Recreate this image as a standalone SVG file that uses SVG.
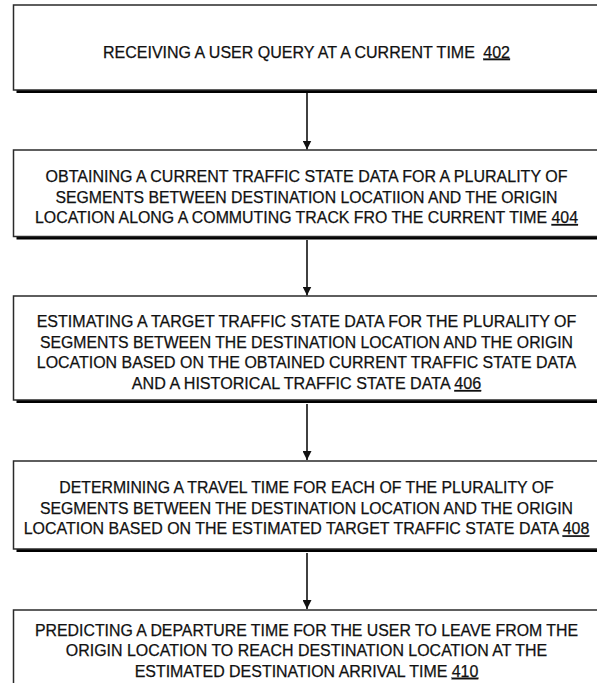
<svg xmlns="http://www.w3.org/2000/svg" width="597" height="683" viewBox="0 0 597 683">
  <style>
    .shadow { fill: #000; }
    .box { fill: #fff; stroke: #2a2a2a; stroke-width: 1.5; }
    .lbl { font-family: "Liberation Sans", Arial, sans-serif; font-size: 16px; fill: #111; stroke: #111; stroke-width: 0.25; text-anchor: middle; }
    .ref { text-decoration: underline; }
    .edge { stroke: #111; stroke-width: 1.6; fill: none; marker-end: url(#head); }
  </style>
  <defs>
    <marker id="head" viewBox="0 0 10 10" refX="10" refY="5" markerWidth="9" markerHeight="9" markerUnits="userSpaceOnUse" orient="auto">
      <path d="M0,0 L10,5 L0,10 Z" fill="#111"/>
    </marker>
  </defs>
  <rect width="597" height="683" fill="#fff"/>

  <!-- connectors between steps -->
  <g id="connectors">
    <line class="edge" x1="307" y1="93" x2="307" y2="149.5"/>
    <line class="edge" x1="307" y1="240" x2="307" y2="295.5"/>
    <line class="edge" x1="307" y1="404" x2="307" y2="460"/>
    <line class="edge" x1="307" y1="553" x2="307" y2="609"/>
  </g>

  <!-- step 402 -->
  <g id="step402">
    <rect class="shadow" x="16.5" y="8" width="590" height="85"/>
    <rect class="box" x="13.5" y="5" width="590" height="85"/>
    <text class="lbl" x="306.5" y="57.5" textLength="407" lengthAdjust="spacingAndGlyphs">RECEIVING A USER QUERY AT A CURRENT TIME <tspan dx="4" class="ref">402</tspan></text>
  </g>

  <!-- step 404 -->
  <g id="step404">
    <rect class="shadow" x="16.5" y="153" width="590" height="86.5"/>
    <rect class="box" x="13.5" y="150" width="590" height="86.5"/>
    <text class="lbl" x="306.5" y="181.5" textLength="522" lengthAdjust="spacingAndGlyphs">OBTAINING A CURRENT TRAFFIC STATE DATA FOR A PLURALITY OF</text>
    <text class="lbl" x="306.5" y="202.5" textLength="502" lengthAdjust="spacingAndGlyphs">SEGMENTS BETWEEN DESTINATION LOCATIION AND THE ORIGIN</text>
    <text class="lbl" x="306.5" y="223" textLength="543" lengthAdjust="spacingAndGlyphs">LOCATION ALONG A COMMUTING TRACK FRO THE CURRENT TIME <tspan class="ref">404</tspan></text>
  </g>

  <!-- step 406 -->
  <g id="step406">
    <rect class="shadow" x="16.5" y="299" width="590" height="104"/>
    <rect class="box" x="13.5" y="296" width="590" height="104"/>
    <text class="lbl" x="306.5" y="327.3" textLength="539.6" lengthAdjust="spacingAndGlyphs">ESTIMATING A TARGET TRAFFIC STATE DATA FOR THE PLURALITY OF</text>
    <text class="lbl" x="306.5" y="347.7" textLength="533" lengthAdjust="spacingAndGlyphs">SEGMENTS BETWEEN THE DESTINATION LOCATION AND THE ORIGIN</text>
    <text class="lbl" x="306.5" y="368.3" textLength="539.3" lengthAdjust="spacingAndGlyphs">LOCATION BASED ON THE OBTAINED CURRENT TRAFFIC STATE DATA</text>
    <text class="lbl" x="306.5" y="389" textLength="349.3" lengthAdjust="spacingAndGlyphs">AND A HISTORICAL TRAFFIC STATE DATA <tspan class="ref">406</tspan></text>
  </g>

  <!-- step 408 -->
  <g id="step408">
    <rect class="shadow" x="16.5" y="464" width="590" height="88"/>
    <rect class="box" x="13.5" y="461" width="590" height="88"/>
    <text class="lbl" x="306.5" y="493.3" textLength="494.4" lengthAdjust="spacingAndGlyphs">DETERMINING A TRAVEL TIME FOR EACH OF THE PLURALITY OF</text>
    <text class="lbl" x="306.5" y="514" textLength="533" lengthAdjust="spacingAndGlyphs">SEGMENTS BETWEEN THE DESTINATION LOCATION AND THE ORIGIN</text>
    <text class="lbl" x="306.5" y="534.3" textLength="565.7" lengthAdjust="spacingAndGlyphs">LOCATION BASED ON THE ESTIMATED TARGET TRAFFIC STATE DATA <tspan class="ref">408</tspan></text>
  </g>

  <!-- step 410 -->
  <g id="step410">
    <rect class="shadow" x="16.5" y="613" width="590" height="90"/>
    <rect class="box" x="13.5" y="610" width="590" height="90"/>
    <text class="lbl" x="306.5" y="636" textLength="543" lengthAdjust="spacingAndGlyphs">PREDICTING A DEPARTURE TIME FOR THE USER TO LEAVE FROM THE</text>
    <text class="lbl" x="306.5" y="656.3" textLength="481.3" lengthAdjust="spacingAndGlyphs">ORIGIN LOCATION TO REACH DESTINATION LOCATION AT THE</text>
    <text class="lbl" x="306.5" y="676.7" textLength="343.7" lengthAdjust="spacingAndGlyphs">ESTIMATED DESTINATION ARRIVAL TIME <tspan class="ref">410</tspan></text>
  </g>
</svg>
